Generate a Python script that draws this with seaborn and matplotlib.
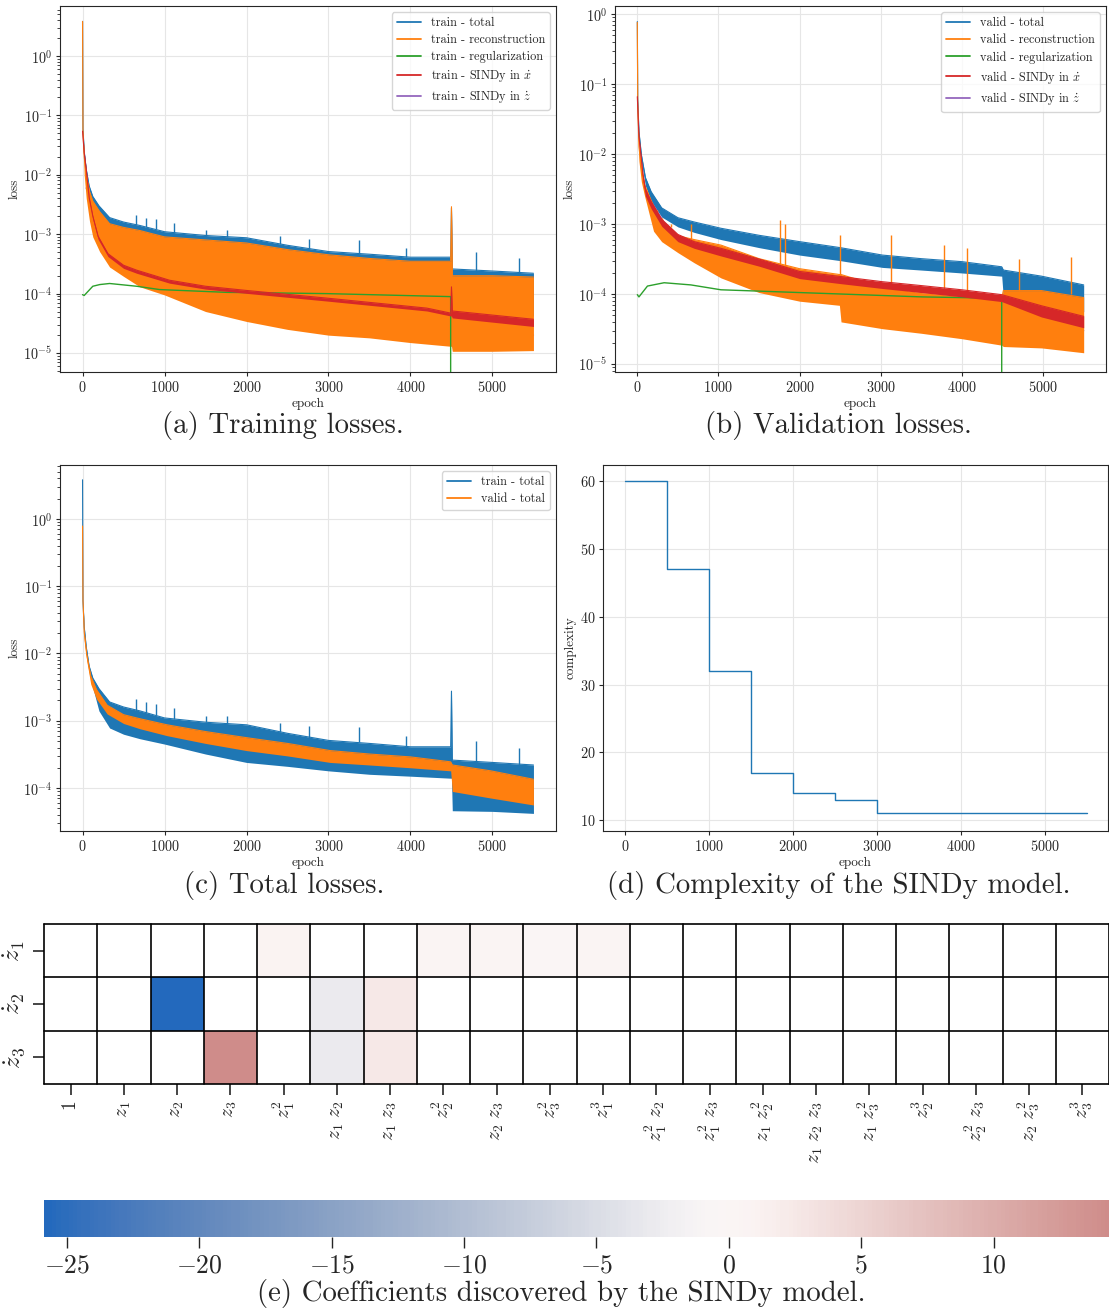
import numpy as np
import pandas as pd
import matplotlib
matplotlib.use("Agg")
import matplotlib.pyplot as plt
from matplotlib.lines import Line2D
import seaborn as sns

# ---- train losses (envelopes) ----
ep_tt = [0, 5, 20, 45, 80, 125, 200, 330, 500, 700, 1000, 1500, 2000, 2500, 3000, 3500, 4000, 4490, 4500, 4510, 5000, 5500]
tt_hi = [3.8, 6e-2, 2.5e-2, 1.25e-2, 6.5e-3, 4.3e-3, 3.0e-3, 1.9e-3, 1.6e-3, 1.4e-3, 1.1e-3, 9.5e-4, 8.7e-4, 6.5e-4,
         5.1e-4, 4.6e-4, 4.1e-4, 4.1e-4, 2.75e-3, 2.6e-4, 2.4e-4, 2.2e-4]
tt_lo = [3.8, 5e-2, 2.0e-2, 1.1e-2, 5.5e-3, 3.1e-3, 1.4e-3, 7.8e-4, 6.3e-4, 5.4e-4, 4.5e-4, 3.2e-4, 2.4e-4, 2.1e-4,
         1.8e-4, 1.6e-4, 1.5e-4, 1.4e-4, 1.4e-4, 4.6e-5, 4.5e-5, 4.2e-5]
tt_spike_ep = [656, 778, 900, 1120, 1510, 1760, 2410, 2760, 3370, 3940, 4795, 5325]
tt_spike_top = [2.1e-3, 1.9e-3, 1.8e-3, 1.55e-3, 1.17e-3, 1.17e-3, 9.3e-4, 8.3e-4, 8.1e-4, 5.9e-4, 5.0e-4, 4.0e-4]
tt_spike_base = [1.4e-3, 1.3e-3, 1.2e-3, 1.05e-3, 9.5e-4, 9.0e-4, 6.8e-4, 5.6e-4, 4.8e-4, 4.1e-4, 2.4e-4, 2.2e-4]

ep_tr = [0, 5, 20, 45, 85, 125, 208, 330, 500, 700, 1000, 1500, 2000, 2500, 3000, 3500, 4000, 4490, 4500, 4510, 5000, 5500]
tr_hi = [3.8, 5.6e-2, 2.0e-2, 1.0e-2, 5.2e-3, 3.6e-3, 2.4e-3, 1.5e-3, 1.3e-3, 1.15e-3, 9.0e-4, 8.0e-4, 7.1e-4, 5.5e-4,
         4.5e-4, 3.9e-4, 3.5e-4, 3.5e-4, 2.9e-3, 2.0e-4, 2.0e-4, 1.9e-4]
tr_lo = [3.8, 4.0e-2, 1.0e-2, 4.0e-3, 1.65e-3, 9.0e-4, 5.1e-4, 2.8e-4, 1.95e-4, 1.3e-4, 9.5e-5, 5.0e-5, 3.4e-5, 2.5e-5,
         2.0e-5, 1.8e-5, 1.5e-5, 1.3e-5, 1.3e-5, 1.07e-5, 1.07e-5, 1.1e-5]

ep_tg = [0, 20, 125, 210, 330, 660, 940, 1760, 2980, 4490, 4500, 5500]
tg = [9.6e-5, 9.3e-5, 1.33e-4, 1.42e-4, 1.48e-4, 1.33e-4, 1.17e-4, 1.05e-4, 1.0e-4, 8.9e-5, 0, 0]

ep_tx = [0, 20, 45, 80, 125, 190, 310, 500, 660, 1060, 1500, 2000, 2980, 4200, 4490, 4500, 4510, 5500]
tx_hi = [5.4e-2, 2.37e-2, 1.22e-2, 4.2e-3, 2.02e-3, 9.2e-4, 4.7e-4, 3.0e-4, 2.48e-4, 1.68e-4, 1.33e-4, 1.13e-4,
         8.4e-5, 5.7e-5, 4.7e-5, 1.3e-4, 5.1e-5, 3.7e-5]
tx_lo = [5.4e-2, 2.11e-2, 1.08e-2, 3.76e-3, 1.8e-3, 8.2e-4, 4.2e-4, 2.66e-4, 2.2e-4, 1.5e-4, 1.19e-4, 1.01e-4,
         7.5e-5, 5.1e-5, 4.2e-5, 4.2e-5, 3.9e-5, 2.8e-5]

ep_tz = [45, 330, 2000, 4500, 5500]
tz = [6e-3, 5e-4, 5e-5, 3e-5, 2e-5]

# ---- validation losses ----
ep_vt = [0, 5, 20, 50, 100, 170, 300, 500, 700, 1030, 1500, 2000, 2500, 3020, 3500, 4000, 4490, 4510, 4980, 5500]
vt_hi = [0.78, 6.3e-2, 2.1e-2, 9.8e-3, 4.6e-3, 2.9e-3, 1.7e-3, 1.23e-3, 1.07e-3, 8.7e-4, 6.9e-4, 5.6e-4, 4.6e-4,
         3.6e-4, 3.2e-4, 2.9e-4, 2.45e-4, 2.2e-4, 1.8e-4, 1.35e-4]
vt_lo = [0.78, 5.0e-2, 1.6e-2, 7.9e-3, 3.5e-3, 2.1e-3, 1.26e-3, 9.1e-4, 7.6e-4, 6.0e-4, 4.6e-4, 3.6e-4, 3.0e-4,
         2.4e-4, 2.2e-4, 2.0e-4, 1.8e-4, 8.9e-5, 7.1e-5, 5.6e-5]

ep_vr = [0, 5, 20, 50, 90, 200, 300, 500, 700, 1030, 1500, 2000, 2490, 2510, 3020, 3500, 4000, 4490, 4510, 4980, 5500]
vr_hi = [0.76, 5.0e-2, 1.26e-2, 6.3e-3, 3.6e-3, 1.8e-3, 1.12e-3, 6.8e-4, 6.0e-4, 5.0e-4, 3.2e-4, 2.3e-4, 1.9e-4,
         1.9e-4, 1.26e-4, 1.05e-4, 9.3e-5, 8.7e-5, 1.12e-4, 1.12e-4, 8.9e-5]
vr_lo = [0.76, 3.2e-2, 7.9e-3, 4.0e-3, 2.5e-3, 7.9e-4, 5.6e-4, 3.9e-4, 2.8e-4, 1.7e-4, 1.05e-4, 7.9e-5, 6.9e-5,
         4.0e-5, 3.2e-5, 2.75e-5, 2.3e-5, 1.86e-5, 1.78e-5, 1.7e-5, 1.45e-5]
vr_spike_ep = [240, 300, 420, 660, 1760, 1820, 2494, 3126, 3780, 4060, 4700, 5340]
vr_spike_top = [1.6e-3, 1.2e-3, 1.0e-3, 1.0e-3, 1.15e-3, 1.0e-3, 6.9e-4, 6.9e-4, 5.0e-4, 4.5e-4, 3.2e-4, 3.4e-4]
vr_spike_base = [1.5e-3, 1.1e-3, 9.0e-4, 6.0e-4, 2.5e-4, 2.4e-4, 1.9e-4, 1.26e-4, 1.0e-4, 9.3e-5, 1.1e-4, 1.0e-4]

ep_vg = [0, 20, 125, 330, 660, 1030, 2000, 3510, 4490, 4510, 5500]
vg = [9.8e-5, 9.1e-5, 1.3e-4, 1.45e-4, 1.35e-4, 1.15e-4, 1.05e-4, 9.1e-5, 8.7e-5, 0, 0]

ep_vx = [0, 20, 70, 100, 170, 300, 500, 700, 1030, 1500, 2000, 2500, 3020, 3500, 4000, 4490, 4980, 5500]
vx_hi = [6.6e-2, 1.78e-2, 5.1e-3, 3.16e-3, 2.1e-3, 1.17e-3, 7.1e-4, 5.6e-4, 4.5e-4, 3.16e-4, 2.1e-4, 1.78e-4,
         1.5e-4, 1.32e-4, 1.15e-4, 9.8e-5, 6.8e-5, 4.8e-5]
vx_lo = [6.6e-2, 1.41e-2, 4.1e-3, 2.5e-3, 1.66e-3, 9.3e-4, 5.6e-4, 4.5e-4, 3.5e-4, 2.5e-4, 1.66e-4, 1.41e-4,
         1.2e-4, 1.05e-4, 9.1e-5, 7.8e-5, 4.7e-5, 3.3e-5]

ep_vz = [90, 500, 2000, 4500, 5500]
vz = [3.0e-3, 5.0e-4, 1.0e-4, 4.0e-5, 3.0e-5]

# ---- complexity ----
cx_ep = [0, 500, 1000, 1500, 2000, 2500, 3000, 5500]
cx_val = [60, 47, 32, 17, 14, 13, 11, 11]

# ---- SINDy coefficients ----
terms = ["$1$", "$z_1$", "$z_2$", "$z_3$", "$z_1^2$", r"$z_1\ z_2$", r"$z_1\ z_3$",
         "$z_2^2$", r"$z_2\ z_3$", "$z_3^2$", "$z_1^3$", r"$z_1^2\ z_2$", r"$z_1^2\ z_3$",
         r"$z_1\ z_2^2$", r"$z_1\ z_2\ z_3$", r"$z_1\ z_3^2$", "$z_2^3$", r"$z_2^2\ z_3$",
         r"$z_2\ z_3^2$", "$z_3^3$"]
eqs = [r"$\dot{z}_1$", r"$\dot{z}_2$", r"$\dot{z}_3$"]
coef_z1 = [0, 0, 0, 0, 0.9, 0, 0, 0.4, 0.5, -0.2, 0.5, 0, 0, 0, 0, 0, 0, 0, 0, 0]
coef_z2 = [0, 0, -25.87, 0, 0, -3.0, 2.5, 0, 0, 0, 0, 0, 0, 0, 0, 0, 0, 0, 0, 0]
coef_z3 = [0, 0, 0, 14.36, 0, -3.0, 2.5, 0, 0, 0, 0, 0, 0, 0, 0, 0, 0, 0, 0, 0]

sns.set_style("ticks", {"axes.grid": True, "grid.color": "0.9"})
plt.rcParams["font.family"] = ["cmr10", "DejaVu Serif"]
plt.rcParams["mathtext.fontset"] = "cm"
plt.rcParams["axes.formatter.use_mathtext"] = True
plt.rcParams["xtick.labelsize"] = 10.3
plt.rcParams["ytick.labelsize"] = 10.3
plt.rcParams["axes.labelsize"] = 9.5
plt.rcParams["axes.labelpad"] = 2.0
for a in ("xtick", "ytick"):
    plt.rcParams[a + ".major.size"] = 3.0
    plt.rcParams[a + ".minor.size"] = 2.0
    plt.rcParams[a + ".major.pad"] = 2.5

W, H = 1109, 1312
fig = plt.figure(figsize=(W / 100, H / 100), dpi=100)


def px_axes(l, t, r, b):
    return fig.add_axes([l / W, 1 - b / H, (r - l) / W, (b - t) / H])


def band(ax, ep, lo, hi, color, z):
    sns.lineplot(x=ep + ep, y=lo + hi, ax=ax, color=color, lw=0.8, zorder=z + 0.1,
                 estimator="max", errorbar=("pi", 100), err_kws={"alpha": 1, "lw": 0, "zorder": z})


def line(ax, ep, val, color, z, lw=1.0):
    sns.lineplot(x=ep, y=val, ax=ax, color=color, lw=lw, errorbar=None, zorder=z)


def finish(ax, ylim, labels, colors):
    ax.set_yscale("log")
    ax.set_ylim(*ylim)
    ax.set_xlim(-275, 5775)
    ax.set_xticks([0, 1000, 2000, 3000, 4000, 5000])
    ax.set_xlabel("epoch")
    ax.set_ylabel("loss")
    handles = [Line2D([], [], color=c, lw=1.3) for c in colors]
    ax.legend(handles, labels, loc="upper right", fontsize=8.8, labelspacing=0.4, frameon=True)


cols5 = ["C0", "C1", "C2", "C3", "C4"]

# (a) training
ax_a = px_axes(60, 6, 556, 372)
band(ax_a, ep_tt, tt_lo, tt_hi, "C0", 1)
ax_a.vlines(tt_spike_ep, tt_spike_base, tt_spike_top, color="C0", lw=1.0, zorder=1.2)
line(ax_a, ep_tz, tz, "C4", 1.5)
band(ax_a, ep_tr, tr_lo, tr_hi, "C1", 2)
line(ax_a, ep_tg, tg, "C2", 3)
band(ax_a, ep_tx, tx_lo, tx_hi, "C3", 4)
finish(ax_a, (4.8e-6, 6.9), ["train - total", "train - reconstruction", "train - regularization",
                             "train - SINDy in $\\dot{x}$", "train - SINDy in $\\dot{z}$"], cols5)

# (b) validation
ax_b = px_axes(615, 6, 1106, 372)
band(ax_b, ep_vt, vt_lo, vt_hi, "C0", 1)
line(ax_b, ep_vz, vz, "C4", 1.5)
band(ax_b, ep_vr, vr_lo, vr_hi, "C1", 2)
ax_b.vlines(vr_spike_ep, vr_spike_base, vr_spike_top, color="C1", lw=1.0, zorder=2.2)
line(ax_b, ep_vg, vg, "C2", 3)
band(ax_b, ep_vx, vx_lo, vx_hi, "C3", 4)
finish(ax_b, (7.7e-6, 1.3), ["valid - total", "valid - reconstruction", "valid - regularization",
                             "valid - SINDy in $\\dot{x}$", "valid - SINDy in $\\dot{z}$"], cols5)

# (c) totals
ax_c = px_axes(60, 465, 556, 831)
band(ax_c, ep_tt, tt_lo, tt_hi, "C0", 1)
ax_c.vlines(tt_spike_ep, tt_spike_base, tt_spike_top, color="C0", lw=1.0, zorder=1.2)
band(ax_c, ep_vt, vt_lo, vt_hi, "C1", 2)
finish(ax_c, (2.3e-5, 6.3), ["train - total", "valid - total"], ["C0", "C1"])

# (d) complexity
ax_d = px_axes(603, 465, 1108, 831)
sns.lineplot(x=cx_ep, y=cx_val, ax=ax_d, color="C0", lw=1.0, drawstyle="steps-post", errorbar=None)
ax_d.set_xlim(-262, 5750)
ax_d.set_ylim(8.4, 62.4)
ax_d.set_xticks([0, 1000, 2000, 3000, 4000, 5000])
ax_d.set_xlabel("epoch")
ax_d.set_ylabel("complexity")

# (e) coefficients heatmap
coef = pd.DataFrame([coef_z1, coef_z2, coef_z3], index=eqs, columns=terms)
ax_e = px_axes(44, 924, 1109, 1084)
cax = px_axes(44, 1200, 1109, 1237)
sns.heatmap(coef, mask=coef == 0, cmap="vlag", center=0, ax=ax_e, cbar_ax=cax,
            cbar_kws={"orientation": "horizontal"})
ax_e.grid(False)
cax.grid(False)
for i in range(len(terms) + 1):
    ax_e.axvline(i, color="black", lw=1.2, clip_on=False)
for j in range(len(eqs) + 1):
    ax_e.axhline(j, color="black", lw=1.2, clip_on=False)
ax_e.set_xticklabels(terms, rotation=90, fontsize=14)
ax_e.set_yticklabels(eqs, rotation=90, va="center", fontsize=18)
ax_e.tick_params(length=8, width=1.2, pad=4)
cbar = ax_e.collections[0].colorbar
cbar.outline.set_visible(False)
cbar.set_ticks([-25, -20, -15, -10, -5, 0, 5, 10])
cbar.ax.tick_params(labelsize=18.5, length=8, width=1, pad=4)

# captions
cap = 20.8
fig.text(283 / W, 1 - 426 / H, "(a) Training losses.", ha="center", va="center", fontsize=cap)
fig.text(838 / W, 1 - 426 / H, "(b) Validation losses.", ha="center", va="center", fontsize=cap)
fig.text(284 / W, 1 - 886 / H, "(c) Total losses.", ha="center", va="center", fontsize=cap)
fig.text(839 / W, 1 - 886 / H, "(d) Complexity of the SINDy model.", ha="center", va="center", fontsize=cap)
fig.text(561 / W, 1 - 1293 / H, "(e) Coefficients discovered by the SINDy model.", ha="center",
         va="center", fontsize=cap)

fig.savefig("out.png", dpi=100)
